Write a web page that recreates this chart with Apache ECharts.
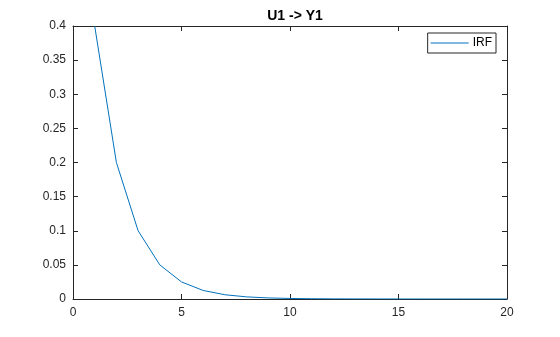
<!DOCTYPE html>
<html><head><meta charset="utf-8">
<script src="https://cdn.jsdelivr.net/npm/echarts@6/dist/echarts.min.js"></script>
<style>html,body{margin:0;padding:0;background:#fff}#c{width:560px;height:337px}</style>
</head><body><div id="c"></div>
<script>
const steps = [1,2,3,4,5,6,7,8,9,10,11,12,13,14,15,16,17,18,19,20];
const irf = [0.4,0.2,0.1,0.05,0.025,0.0125,0.00625,0.003125,0.0015625,0.00078125,0.000390625,0.0001953,0.0000977,0.0000488,0.0000244,0.0000122,0.0000061,0.0000031,0.0000015,0.0000008];
const xTicks = [0,5,10,15,20];
const yTicks = [0,0.05,0.1,0.15,0.2,0.25,0.3,0.35,0.4];
const titleText = 'U1 -> Y1';
const seriesName = 'IRF';

const axisCol = '#262626';
const font = 'Liberation Sans, Arial, sans-serif';
const chart = echarts.init(document.getElementById('c'), null, {renderer:'canvas'});
const baseX = {type:'value', min:0, max:20, interval:5,
  axisLine:{show:true, onZero:false, lineStyle:{color:axisCol, width:1}},
  axisTick:{show:true, inside:true, length:5, lineStyle:{color:axisCol}},
  splitLine:{show:false}};
const baseY = {type:'value', min:0, max:0.4, interval:0.05,
  axisLine:{show:true, onZero:false, lineStyle:{color:axisCol, width:1}},
  axisTick:{show:true, inside:true, length:5, lineStyle:{color:axisCol}},
  splitLine:{show:false}};
chart.setOption({
  animation:false,
  backgroundColor:'#fff',
  title:{text:titleText, left:290, top:4, textAlign:'center',
    textStyle:{fontFamily:font, fontSize:14, fontWeight:'bold', color:'#000'}},
  grid:{left:73, right:53, top:26, bottom:38},
  legend:{data:[seriesName], right:64, top:33, orient:'vertical',
    borderColor:axisCol, borderWidth:1, padding:[4,4,4,3],
    itemWidth:38, itemHeight:1, itemGap:0,
    icon:'rect',
    textStyle:{fontFamily:font, fontSize:12, color:'#000', padding:[0,0,0,-1]}},
  xAxis:[
    Object.assign({}, baseX, {position:'bottom',
      axisLabel:{show:true, color:axisCol, fontFamily:font, fontSize:12, margin:8,
        formatter:v=>xTicks.includes(v)?String(v):''}}),
    Object.assign({}, baseX, {position:'top', axisLabel:{show:false}})
  ],
  yAxis:[
    Object.assign({}, baseY, {position:'left',
      axisLabel:{show:true, color:axisCol, fontFamily:font, fontSize:12, margin:7,
        formatter:v=>{const t=yTicks.find(k=>Math.abs(k-v)<1e-9); return t===undefined?'':String(t);}}}),
    Object.assign({}, baseY, {position:'right', axisLabel:{show:false}})
  ],
  series:[{name:seriesName, type:'line', xAxisIndex:0, yAxisIndex:0,
    data:steps.map((s,i)=>[s, irf[i]]), symbol:'none', clip:true,
    lineStyle:{color:'#0072BD', width:1}, itemStyle:{color:'#0072BD'}}]
});
</script></body></html>
